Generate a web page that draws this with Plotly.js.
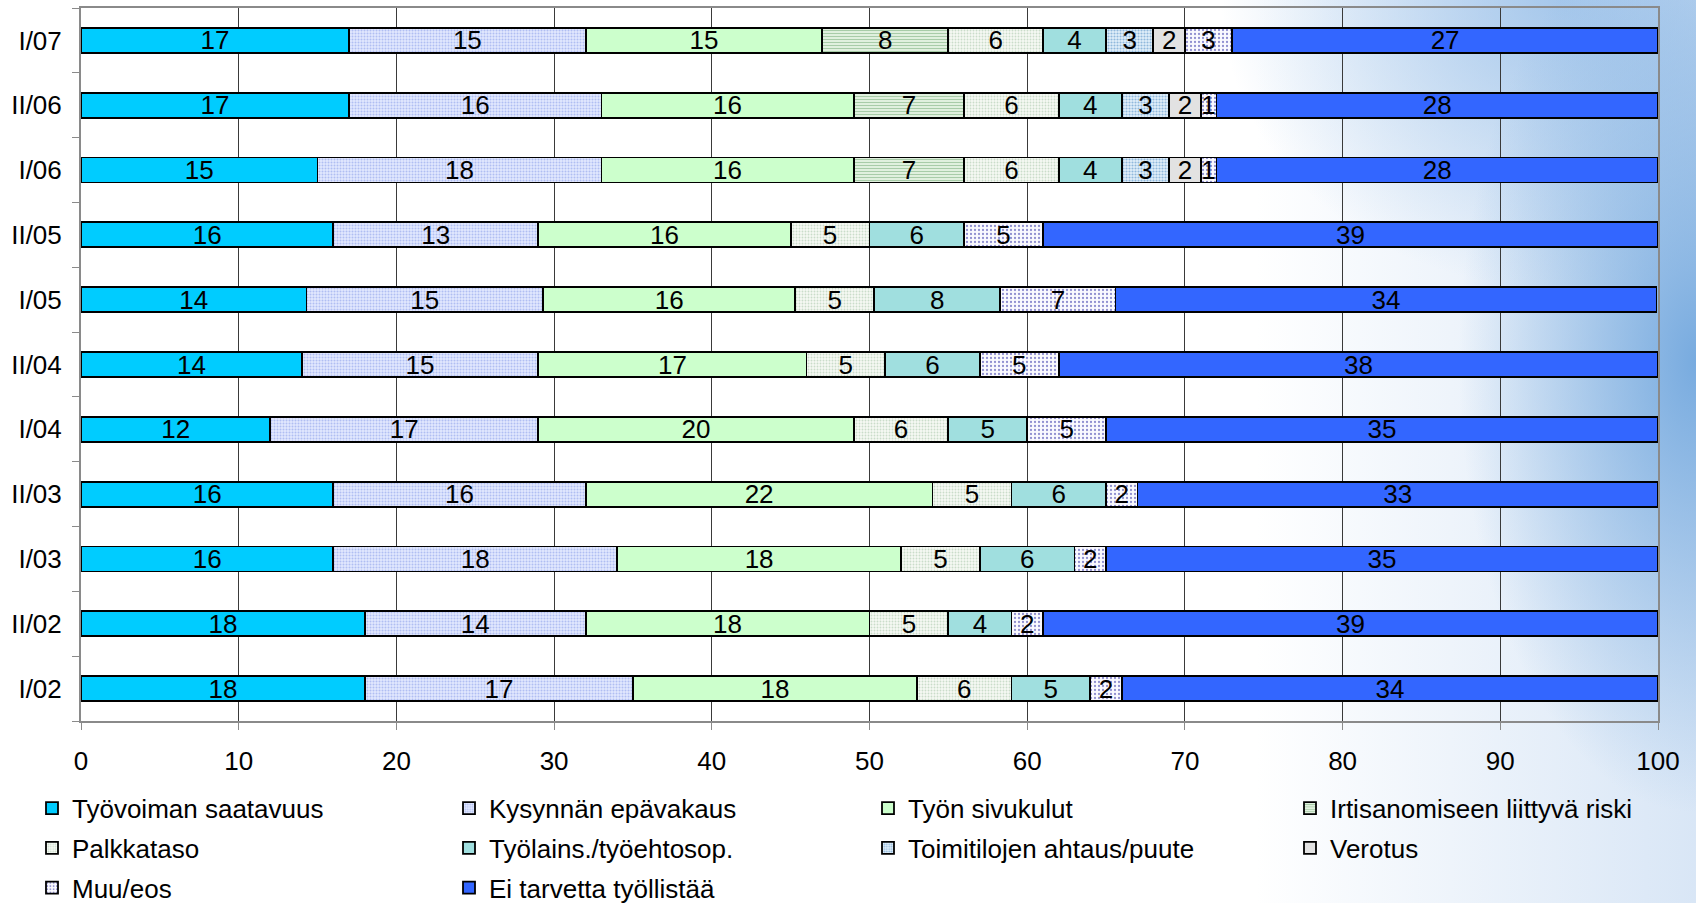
<!DOCTYPE html>
<html>
<head>
<meta charset="utf-8">
<script src="https://cdn.plot.ly/plotly-3.0.1.min.js"></script>
<style>
  html, body { margin: 0; padding: 0; background: #ffffff; }
  #chart {
    width: 1696px; height: 903px;
    background:
      radial-gradient(ellipse 14% 50% at 100% 40%, rgba(115,168,222,0.95) 0%, rgba(115,168,222,0) 100%),
      radial-gradient(ellipse 20% 32% at 92% 0%, rgba(150,190,232,0.8) 0%, rgba(150,190,232,0) 100%),
      linear-gradient(to right, rgba(255,255,255,0) 0%, rgba(255,255,255,0) 74%, rgba(170,200,235,0.45) 100%),
      #ffffff;
  }
</style>
</head>
<body>
<div id="chart"></div>
<script>
// Categories (bottom to top)
const categories = ["I/02", "II/02", "I/03", "II/03", "I/04", "II/04", "I/05", "II/05", "I/06", "II/06", "I/07"];

// Series values (per category, bottom to top); null = not asked
const tyovoimanSaatavuus = [18, 18, 16, 16, 12, 14, 14.3, 16, 15, 17, 17];
const kysynnanEpavakaus  = [17, 14, 18, 16, 17, 15, 15.0, 13, 18, 16, 15];
const tyonSivukulut      = [18, 18, 18, 22, 20, 17, 16.0, 16, 16, 16, 15];
const irtisanomisRiski   = [null, null, null, null, null, null, null, null, 7, 7, 8];
const palkkataso         = [6, 5, 5, 5, 6, 5, 5.0, 5, 6, 6, 6];
const tyolainsTyoehto    = [5, 4, 6, 6, 5, 6, 8.0, 6, 4, 4, 4];
const toimitilojenAhtaus = [null, null, null, null, null, null, null, null, 3, 3, 3];
const verotus            = [null, null, null, null, null, null, null, null, 2, 2, 2];
const muuEos             = [2, 2, 2, 2, 5, 5, 7.3, 5, 1, 1, 3];
const eiTarvetta         = [34, 39, 35, 33, 35, 38, 34.3, 39, 28, 28, 27];

const seriesNames = [
  "Työvoiman saatavuus", "Kysynnän epävakaus", "Työn sivukulut", "Irtisanomiseen liittyvä riski",
  "Palkkataso", "Työlains./työehtosop.", "Toimitilojen ahtaus/puute", "Verotus",
  "Muu/eos", "Ei tarvetta työllistää"
];
const xTicks = [0, 10, 20, 30, 40, 50, 60, 70, 80, 90, 100];

const seriesValues = [
  tyovoimanSaatavuus, kysynnanEpavakaus, tyonSivukulut, irtisanomisRiski,
  palkkataso, tyolainsTyoehto, toimitilojenAhtaus, verotus, muuEos, eiTarvetta
];

const styles = [
  { color: "#00CCFF" },
  { color: "#DCE4FF", pattern: { shape: ".", bgcolor: "#E2E9FF", fgcolor: "#B0BEF2", size: 3, solidity: 0.35 } },
  { color: "#CCFFCC" },
  { color: "#DDEEDD", pattern: { shape: "-", bgcolor: "#E6F4E4", fgcolor: "#A8CCA8", size: 3, solidity: 0.4 } },
  { color: "#F2F6F0", pattern: { shape: ".", bgcolor: "#F6F9F4", fgcolor: "#CADCCA", size: 3, solidity: 0.3 } },
  { color: "#A0DFDF" },
  { color: "#D8ECF8", pattern: { shape: ".", bgcolor: "#E2F0FA", fgcolor: "#90B8DC", size: 3, solidity: 0.4 } },
  { color: "#E2E2E2" },
  { color: "#F6F6FC", pattern: { shape: ".", bgcolor: "#FAFAFF", fgcolor: "#9090D0", size: 4, solidity: 0.25 } },
  { color: "#3366FF" }
];

const FONT = "'Liberation Sans', Arial, sans-serif";

// legend column for each series (4 columns, read row by row)
const legendIds = ["legend", "legend2", "legend3", "legend4", "legend", "legend2", "legend3", "legend4", "legend", "legend2"];

const traces = seriesNames.map((name, i) => {
  const m = { color: styles[i].color, line: { color: "#000000", width: 1.8 } };
  if (styles[i].pattern) m.pattern = styles[i].pattern;
  return {
    type: "bar",
    orientation: "h",
    name: name,
    legend: legendIds[i],
    legendgroup: "g" + i,
    y: categories,
    x: seriesValues[i],
    marker: m,
    texttemplate: "%{x:.0f}",
    textposition: "inside",
    insidetextanchor: "middle",
    textangle: 0,
    constraintext: "none",
    textfont: { family: FONT, size: 26, color: "#000000" },
    hoverinfo: "name+x"
  };
});

function legendAt(xPx) {
  return {
    orientation: "v",
    xref: "container",
    yref: "container",
    x: xPx / 1696,
    y: 0.131,
    xanchor: "left",
    yanchor: "top",
    traceorder: "grouped",
    tracegroupgap: 3,
    bgcolor: "rgba(0,0,0,0)",
    font: { family: FONT, size: 26, color: "#000000" },
    itemclick: false,
    itemdoubleclick: false
  };
}

const layout = {
  width: 1696,
  height: 903,
  barmode: "stack",
  bargap: 0.615,
  paper_bgcolor: "rgba(0,0,0,0)",
  plot_bgcolor: "rgba(0,0,0,0)",
  font: { family: FONT, size: 26, color: "#000000" },
  margin: { l: 81, r: 38, t: 8, b: 182, pad: 0, autoexpand: false },
  xaxis: {
    range: [0, 100],
    tickvals: xTicks,
    ticktext: xTicks.map(String),
    showgrid: true,
    gridcolor: "#3a3a3a",
    gridwidth: 1,
    zeroline: false,
    showline: true,
    linecolor: "#8a8a8a",
    linewidth: 2,
    mirror: true,
    ticks: "outside",
    ticklen: 7,
    tickcolor: "#8a8a8a",
    tickfont: { family: FONT, size: 26, color: "#000000" },
    ticklabelstandoff: 9,
    automargin: false,
    fixedrange: true
  },
  yaxis: {
    type: "category",
    categoryorder: "array",
    categoryarray: categories,
    showgrid: false,
    showline: true,
    linecolor: "#8a8a8a",
    linewidth: 2,
    mirror: true,
    ticks: "outside",
    tickson: "boundaries",
    ticklen: 7,
    tickcolor: "#8a8a8a",
    tickfont: { family: FONT, size: 26, color: "#000000" },
    ticklabelstandoff: 12,
    automargin: false,
    fixedrange: true
  },
  showlegend: true,
  legend: legendAt(32),
  legend2: legendAt(449),
  legend3: legendAt(868),
  legend4: legendAt(1290)
};

Plotly.newPlot("chart", traces, layout, { displayModeBar: false, staticPlot: true });
</script>
</body>
</html>
